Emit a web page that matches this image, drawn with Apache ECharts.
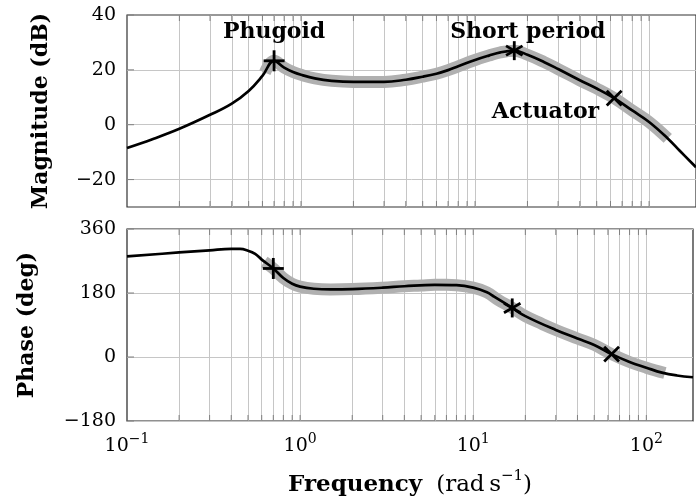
<!DOCTYPE html>
<html><head><meta charset="utf-8">
<script src="https://cdn.jsdelivr.net/npm/echarts@6/dist/echarts.min.js"></script>
<style>html,body{margin:0;padding:0;background:#fff}#c{width:696px;height:502px}</style>
</head><body><div id="c"></div>
<script>
// ---- data ----
const magFreq = [0.1, 0.14, 0.2, 0.3, 0.4, 0.5, 0.6, 0.7, 0.8, 0.9, 1.0, 1.2, 1.5, 2, 3, 4, 5, 6, 7, 8, 10, 12, 14, 16.8, 20, 25, 30, 40, 50, 63, 80, 100, 128, 150, 186];
const magDb   = [-8.5, -5.3, -1.5, 3.6, 7.7, 12.3, 17.8, 23.3, 20.8, 19.2, 18.2, 16.9, 16.0, 15.6, 15.6, 16.4, 17.5, 18.6, 19.9, 21.3, 23.6, 25.2, 26.4, 27.0, 25.5, 22.8, 20.3, 16.2, 13.2, 9.7, 5.2, 1.0, -5.0, -9.5, -15.5];
const phaseFreq = [0.1, 0.2, 0.3, 0.4, 0.45, 0.5, 0.55, 0.6, 0.7, 0.8, 0.9, 1.0, 1.2, 1.5, 2, 3, 4, 6, 8, 10, 12, 13.2, 16.8, 20, 30, 40, 50, 63, 80, 100, 123, 150, 186];
const phaseDeg  = [283, 294, 300, 304, 304, 299, 290, 274, 249, 222, 206, 198, 192, 190, 191, 195, 199, 203, 202, 195, 182, 170, 138, 115, 76, 52, 34, 8, -14, -30, -44, -52, -57];
// highlighted (grey) band
const bandFreq  = [0.62, 0.7, 0.8, 0.9, 1.0, 1.2, 1.5, 2, 3, 4, 5, 6, 7, 8, 10, 12, 14, 16.8, 20, 25, 30, 40, 50, 63, 80, 100, 128];
const bandMag   = [19.0, 23.3, 20.8, 19.2, 18.2, 16.9, 16.0, 15.6, 15.6, 16.4, 17.5, 18.6, 19.9, 21.3, 23.6, 25.2, 26.4, 27.0, 25.5, 22.8, 20.3, 16.2, 13.2, 9.7, 5.2, 1.0, -5.0];
const bandPhase = [268, 249, 222, 206, 198, 192, 190, 191, 195, 199, 201, 203, 203, 202, 195, 182, 160, 138, 115, 93, 76, 52, 34, 8, -14, -30, -45];
// mode markers
const markFreq  = [0.7, 16.8, 63];
const markMag   = [23.3, 27.0, 9.7];
const markPhase = [249, 138, 8];
const markShape = ['plus', 'asterisk', 'cross'];
// annotations
const noteText = ['Phugoid', 'Short period', 'Actuator'];
const noteFreq = [0.7, 20.1, 25.4];
const noteMag  = [33.7, 33.7, 4.6];
// grid / ticks
const gridFreqs = [0.2,0.3,0.4,0.5,0.6,0.7,0.8,0.9,1,2,3,4,5,6,7,8,9,10,20,30,40,50,60,70,80,90,100];
const magTicks = [-20, 0, 20, 40];
const phaseTicks = [-180, 0, 180, 360];

const FONT = 'DejaVu Serif';
// marker glyphs: arm half-length and arm angles (degrees)
const shapes = {
  plus: {r: 10.5, angles: [0, 90]},
  asterisk: {r: 9.5, angles: [90, 30, -30]},
  cross: {r: 10.5, angles: [45, -45]}
};
const neg = v => (v < 0 ? '\u2212' + (-v) : String(v));
const supMap = {'0.1': '\u22121', '1': '0', '10': '1', '100': '2'};
const yRange = [[-30, 40], [-180, 360]];
const yTicks = [magTicks, phaseTicks];

function gridLines(i) {
  return {
    type: 'line', xAxisIndex: i, yAxisIndex: i, data: [], silent: true, z: 0,
    markLine: {
      z: 0,
      silent: true, symbol: ['none', 'none'], label: {show: false},
      animation: false,
      lineStyle: {color: '#c6c6c6', width: 1, type: 'solid'},
      data: gridFreqs.map(f => ({xAxis: f}))
        .concat(i === 0 ? magTicks.slice(0, 3).map(v => ({yAxis: v})) : [])
    }
  };
}
// small inward tick marks on the frame (pgfplots style)
function tickMarks(i) {
  const items = gridFreqs.map(f => ({value: [f, 0], kind: 'x'}))
    .concat(yTicks[i].map(v => ({value: [0.1, v], kind: 'y'})));
  return {
    type: 'custom', xAxisIndex: i, yAxisIndex: i, silent: true, z: 1,
    data: items.map(d => d.value.concat([d.kind === 'x' ? 0 : 1])),
    renderItem: (params, api) => {
      const kind = api.value(2);
      const style = {stroke: '#808080', lineWidth: 1};
      if (kind === 0) {
        const f = api.value(0);
        const top = api.coord([f, yRange[i][1]]);
        const bot = api.coord([f, yRange[i][0]]);
        return {type: 'group', children: [
          {type: 'line', shape: {x1: top[0], y1: top[1], x2: top[0], y2: top[1] + 6}, style},
          {type: 'line', shape: {x1: bot[0], y1: bot[1], x2: bot[0], y2: bot[1] - 6}, style}
        ]};
      }
      const p = api.coord([0.1, api.value(1)]);
      return {type: 'line', shape: {x1: p[0], y1: p[1], x2: p[0] + 7, y2: p[1]}, style};
    }
  };
}
function band(i, ys) {
  return {type: 'line', xAxisIndex: i, yAxisIndex: i, showSymbol: false, smooth: 0.4,
    lineStyle: {color: '#b0b0b0', width: 12, cap: 'butt'}, z: 2, silent: true,
    data: bandFreq.map((f, k) => [f, ys[k]])};
}
function curve(i, xs, ys) {
  return {type: 'line', xAxisIndex: i, yAxisIndex: i, showSymbol: false, smooth: 0.4,
    lineStyle: {color: '#000', width: 2.7}, z: 3, silent: true,
    data: xs.map((f, k) => [f, ys[k]])};
}
function marks(i, ys) {
  return {type: 'custom', xAxisIndex: i, yAxisIndex: i, z: 6, silent: true,
    data: markFreq.map((f, k) => [f, ys[k], k]),
    renderItem: (params, api) => {
      const c = api.coord([api.value(0), api.value(1)]);
      const s = shapes[markShape[api.value(2)]];
      return {type: 'group', children: s.angles.map(a => {
        const t = a * Math.PI / 180, dx = s.r * Math.cos(t), dy = s.r * Math.sin(t);
        return {type: 'line', shape: {x1: c[0] - dx, y1: c[1] - dy, x2: c[0] + dx, y2: c[1] + dy},
          style: {stroke: '#000', lineWidth: 2.8}};
      })};
    }};
}

const xBase = {
  type: 'log', logBase: 10, min: 0.1, max: 186,
  axisLine: {show: false}, splitLine: {show: false},
  axisTick: {show: false}
};
const option = {
  animation: false,
  backgroundColor: '#fff',
  grid: [
    {left: 127, right: -1, top: 15, height: 192, show: true, borderColor: '#333', borderWidth: 1.2, backgroundColor: 'transparent'},
    {left: 127, right: -1, top: 229, height: 192, show: true, borderColor: '#222', borderWidth: 1.2, backgroundColor: 'transparent'}
  ],
  xAxis: [
    Object.assign({gridIndex: 0, axisLabel: {show: false}}, xBase),
    Object.assign({gridIndex: 1,
      axisLabel: {
        show: true, margin: 11,
        formatter: v => {
          const key = String(+v.toPrecision(6));
          return supMap[key] !== undefined ? '{b|10}{s|' + supMap[key] + '}' : '';
        },
        rich: {
          b: {fontFamily: FONT, fontSize: 19, color: '#000', lineHeight: 24, verticalAlign: 'bottom'},
          s: {fontFamily: FONT, fontSize: 14, color: '#000', lineHeight: 14, verticalAlign: 'top'}
        }
      },
      name: '{b|Frequency}{g|}{p|(rad\u2009s}{s|\u22121}{p|)}',
      nameLocation: 'middle', nameGap: 48,
      nameTextStyle: {
        rich: {
          b: {fontFamily: FONT, fontWeight: 'bold', fontSize: 23, color: '#000', lineHeight: 28, verticalAlign: 'bottom'},
          g: {width: 14, lineHeight: 28},
          p: {fontFamily: FONT, fontSize: 23, color: '#000', lineHeight: 28, verticalAlign: 'bottom'},
          s: {fontFamily: FONT, fontSize: 15, color: '#000', lineHeight: 16, verticalAlign: 'top'}
        }
      }
    }, xBase)
  ],
  yAxis: [
    {gridIndex: 0, type: 'value', min: -30, max: 40, interval: 10,
      axisLine: {show: false}, axisTick: {show: false}, splitLine: {show: false},
      axisLabel: {margin: 11, fontFamily: FONT, fontSize: 19, color: '#000',
        formatter: v => (magTicks.indexOf(v) >= 0 ? neg(v) : '')},
      name: 'Magnitude (dB)', nameLocation: 'middle', nameGap: 75, nameRotate: 90,
      nameTextStyle: {fontFamily: FONT, fontWeight: 'bold', fontSize: 22, color: '#000'}},
    {gridIndex: 1, type: 'value', min: -180, max: 360, interval: 180,
      axisLine: {show: false}, axisTick: {show: false},
      splitLine: {show: true, lineStyle: {color: '#c6c6c6', width: 1}},
      axisLabel: {margin: 11, fontFamily: FONT, fontSize: 19, color: '#000',
        formatter: v => (phaseTicks.indexOf(v) >= 0 ? neg(v) : '')},
      name: 'Phase (deg)', nameLocation: 'middle', nameGap: 89, nameRotate: 90,
      nameTextStyle: {fontFamily: FONT, fontWeight: 'bold', fontSize: 22, color: '#000'}}
  ],
  series: [
    gridLines(0), gridLines(1), tickMarks(0), tickMarks(1),
    band(0, bandMag), band(1, bandPhase),
    curve(0, magFreq, magDb), curve(1, phaseFreq, phaseDeg),
    marks(0, markMag), marks(1, markPhase),
    {type: 'scatter', xAxisIndex: 0, yAxisIndex: 0, z: 7, silent: true, symbolSize: 1,
      itemStyle: {color: 'rgba(0,0,0,0)', opacity: 1},
      data: noteText.map((t, k) => ({name: t, value: [noteFreq[k], noteMag[k]]})),
      label: {show: true, position: 'inside', formatter: p => p.name,
        fontFamily: FONT, fontWeight: 'bold', fontSize: 22, color: '#000', textBorderWidth: 0}}
  ]
};
const chart = echarts.init(document.getElementById('c'), null, {renderer: 'canvas'});
chart.setOption(option);
</script></body></html>
